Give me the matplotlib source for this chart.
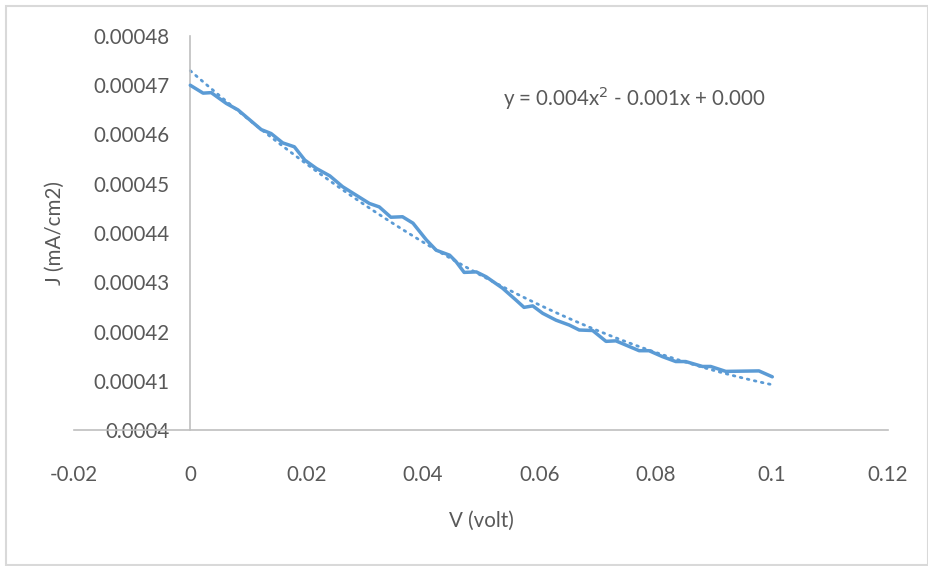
import numpy as np
import matplotlib.pyplot as plt
from matplotlib.patches import Rectangle

plt.rcParams['font.family'] = ['Lato', 'DejaVu Sans']

voltage = [0.0, 0.0022, 0.0036, 0.0062, 0.0082, 0.0102, 0.0122, 0.0139, 0.0159,
           0.0179, 0.0197, 0.0217, 0.0240, 0.0262, 0.0285, 0.0308, 0.0325, 0.0345,
           0.0365, 0.0383, 0.0406, 0.0423, 0.0446, 0.0457, 0.0471, 0.0492, 0.0509,
           0.0537, 0.0560, 0.0574, 0.0589, 0.0606, 0.0629, 0.0652, 0.0669, 0.0692,
           0.0715, 0.0732, 0.0772, 0.0789, 0.0812, 0.0835, 0.0852, 0.0881, 0.0895,
           0.0921, 0.0978, 0.1001]
current = [0.0004700, 0.0004684, 0.0004685, 0.0004663, 0.0004650, 0.0004630,
           0.0004610, 0.0004602, 0.0004583, 0.0004575, 0.0004548, 0.0004531,
           0.0004516, 0.0004494, 0.0004477, 0.0004460, 0.0004453, 0.0004432,
           0.0004433, 0.0004420, 0.0004386, 0.0004365, 0.0004355, 0.0004342,
           0.0004320, 0.0004321, 0.0004311, 0.0004288, 0.0004264, 0.0004249,
           0.0004252, 0.0004237, 0.0004223, 0.0004213, 0.0004203, 0.0004202,
           0.0004180, 0.0004181, 0.0004161, 0.0004161, 0.0004149, 0.0004139,
           0.0004139, 0.0004129, 0.0004129, 0.0004119, 0.0004120, 0.0004108]

x_ticks = [-0.02, 0, 0.02, 0.04, 0.06, 0.08, 0.1, 0.12]
y_ticks = [0.0004, 0.00041, 0.00042, 0.00043, 0.00044, 0.00045, 0.00046, 0.00047, 0.00048]
equation = "y = 0.004x$^2$ - 0.001x + 0.000"

text_col = '#595959'
axis_col = '#BFBFBF'
line_col = '#5B9BD5'
fs = 14.8

fig = plt.figure(figsize=(9.29, 5.66), dpi=100)
ax = fig.add_axes([74 / 929, 1 - 430 / 566, (888 - 74) / 929, (430 - 36) / 566])

ax.plot(voltage, current, color=line_col, lw=2.5, solid_capstyle='round',
        solid_joinstyle='round', zorder=3)

# quadratic trendline
coef = np.polyfit(voltage, current, 2)
xt = np.linspace(0, 0.1, 100)
ax.plot(xt, np.polyval(coef, xt), color=line_col, lw=2.0, ls=(0, (0.6, 2.0)),
        dash_capstyle='round', zorder=2)

ax.set_xlim(-0.02, 0.12)
ax.set_ylim(0.0004, 0.00048)
ax.set_xticks(x_ticks)
ax.set_xticklabels([f"{v:g}" for v in x_ticks])
ax.set_yticks(y_ticks)
ax.set_yticklabels([f"{v:.5f}".rstrip('0') for v in y_ticks])

for s in ['top', 'right']:
    ax.spines[s].set_visible(False)
ax.spines['left'].set_position(('data', 0))
ax.spines['left'].set_color(axis_col)
ax.spines['bottom'].set_color(axis_col)
ax.spines['left'].set_linewidth(1.2)
ax.spines['bottom'].set_linewidth(1.2)

ax.tick_params(axis='both', length=0, labelsize=fs, colors=text_col)
ax.tick_params(axis='y', pad=15)
ax.tick_params(axis='x', pad=25)

fig.text(55 / 929, 1 - 233 / 566, "J (mA/cm2)", rotation=90, ha='center', va='center',
         fontsize=fs, color=text_col)
fig.text(481 / 929, 1 - 521 / 566, "V (volt)", ha='center', va='center',
         fontsize=fs, color=text_col)
fig.text(634 / 929, 1 - 98 / 566, equation, ha='center', va='center',
         fontsize=fs, color=text_col)

fig.patches.append(Rectangle((6 / 929, 1 / 566), 1 - 6 / 929 - 1 / 929, 1 - 7 / 566,
                             transform=fig.transFigure, fill=False,
                             edgecolor='#D9D9D9', lw=1.5))

fig.savefig('out.png', dpi=100)
